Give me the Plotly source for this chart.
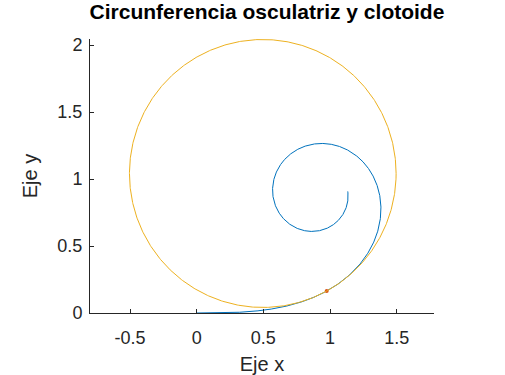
import numpy as np
import plotly.graph_objects as go

# Parameters
clothoid_A = 1.0          # clothoid scale parameter (R*L = A^2)
clothoid_length = 4.0     # total arc length drawn
osc_arc = 1.0             # arc length of the osculating point
x_ticks = [-0.5, 0, 0.5, 1, 1.5]
x_tick_labels = ["-0.5", "0", "0.5", "1", "1.5"]
y_ticks = [0, 0.5, 1, 1.5, 2]
y_tick_labels = ["0", "0.5", "1", "1.5", "2"]
x_range = [-0.8, 1.78]
y_range = [0, 2.045]

# Clothoid (Euler spiral) by numerical integration
s = np.linspace(0, clothoid_length, 4001)
theta = s**2 / (2 * clothoid_A**2)
ds = np.diff(s)
cx = np.concatenate([[0], np.cumsum(0.5 * (np.cos(theta[1:]) + np.cos(theta[:-1])) * ds)])
cy = np.concatenate([[0], np.cumsum(0.5 * (np.sin(theta[1:]) + np.sin(theta[:-1])) * ds)])

# Osculating point and circle
idx = int(np.argmin(np.abs(s - osc_arc)))
px, py = cx[idx], cy[idx]
th0 = theta[idx]
R = clothoid_A**2 / osc_arc
ox, oy = px - R * np.sin(th0), py + R * np.cos(th0)
t = np.linspace(0, 2 * np.pi, 721)
circ_x = ox + R * np.cos(t)
circ_y = oy + R * np.sin(t)

fig = go.Figure()
fig.add_trace(go.Scatter(x=cx, y=cy, mode="lines",
                         line=dict(color="#0072BD", width=1), showlegend=False))
fig.add_trace(go.Scatter(x=[px], y=[py], mode="markers",
                         marker=dict(color="#D95319", size=4), showlegend=False))
fig.add_trace(go.Scatter(x=circ_x, y=circ_y, mode="lines",
                         line=dict(color="#EDB120", width=1), showlegend=False))

font_family = "Liberation Sans, Arial, sans-serif"
top_px = 313.3 - (y_range[1] - y_range[0]) * 134.2
fig.update_layout(
    width=505, height=375,
    margin=dict(l=90, r=71, t=round(top_px), b=62, autoexpand=False),
    paper_bgcolor="white", plot_bgcolor="white",
    font=dict(family=font_family, color="#262626"),
    title=dict(text="<b>Circunferencia osculatriz y clotoide</b>",
               x=267 / 505, xanchor="center",
               y=1 - 12 / 375, yanchor="middle",
               font=dict(size=21, color="black", family=font_family)),
    xaxis=dict(range=x_range, tickvals=x_ticks, ticktext=x_tick_labels,
               showgrid=False, zeroline=False, showline=True, automargin=False,
               linecolor="#262626", linewidth=1, ticks="inside", ticklen=4,
               tickcolor="#262626", tickfont=dict(size=18), ticklabelstandoff=8,
               title=dict(text="Eje x", font=dict(size=20), standoff=14)),
    yaxis=dict(range=y_range, tickvals=y_ticks, ticktext=y_tick_labels,
               showgrid=False, zeroline=False, showline=True, automargin=False,
               linecolor="#262626", linewidth=1, ticks="inside", ticklen=4,
               tickcolor="#262626", tickfont=dict(size=18), ticklabelstandoff=3,
               title=dict(text="Eje y", font=dict(size=20), standoff=14)),
)

fig.write_html("out.html", config={"displayModeBar": False},
               post_script="document.body.style.margin='0';")
